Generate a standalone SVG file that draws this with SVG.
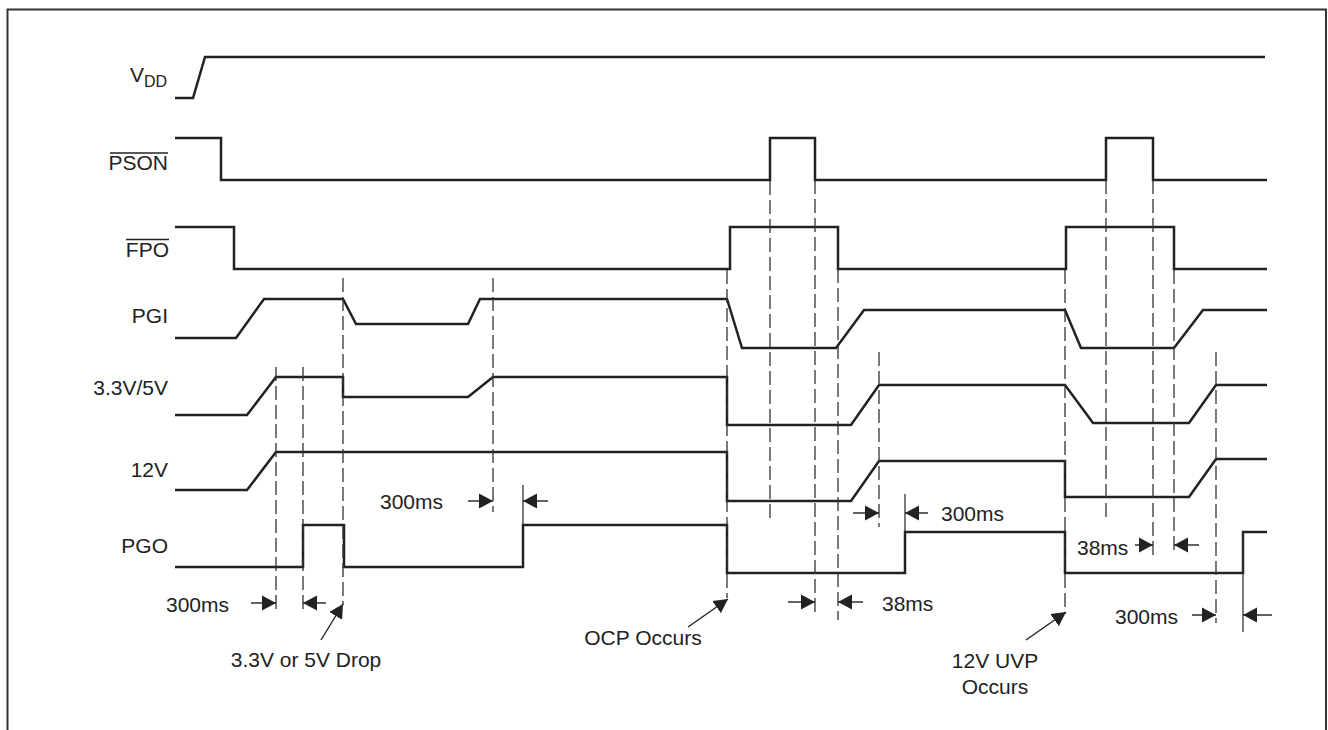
<svg xmlns="http://www.w3.org/2000/svg" width="1328" height="730" viewBox="0 0 1328 730">
<style>
  .wave { fill: none; stroke: #222; stroke-width: 2.5; stroke-linejoin: miter; }
  .dash { fill: none; stroke: #333; stroke-width: 1.3; stroke-dasharray: 14 5; }
  .tick { fill: none; stroke: #333; stroke-width: 1.3; }
  .arr { fill: none; stroke: #222; stroke-width: 1.4; marker-end: url(#ah); }
  .over { stroke: #222; stroke-width: 1.3; }
  text { font-family: "Liberation Sans", Arial, sans-serif; font-size: 21px; fill: #222; }
  .lbl { text-anchor: end; }
  .mid { text-anchor: middle; }
</style>
<defs>
  <marker id="ah" markerUnits="userSpaceOnUse" markerWidth="15" markerHeight="16" refX="14" refY="8" orient="auto">
    <path d="M0,0.5 L14,8 L0,15.5 Z" fill="#222"/>
  </marker>
</defs>
<rect width="1328" height="730" fill="#fff"/>
<path d="M7.5,740 V9.5 H1326 V740" fill="none" stroke="#333" stroke-width="2"/>

<g id="sig-vdd">
  <text x="130" y="82">V<tspan font-size="16" dy="5">DD</tspan></text>
  <path class="wave" d="M175,98 H193 L205,57 H1265"/>
</g>
<g id="sig-pson">
  <text class="lbl" x="168" y="170">PSON</text>
  <line class="over" x1="110" y1="153" x2="168" y2="153"/>
  <path class="wave" d="M175,138 H221 V180 H770 V138 H815 V180 H1106 V138 H1153 V180 H1267"/>
</g>
<g id="sig-fpo">
  <text class="lbl" x="169" y="257">FPO</text>
  <line class="over" x1="126" y1="239.5" x2="169" y2="239.5"/>
  <path class="wave" d="M175,227 H234 V269 H730 V227 H838 V269 H1066 V227 H1174 V269 H1267"/>
</g>
<g id="sig-pgi">
  <text class="lbl" x="168" y="323">PGI</text>
  <path class="wave" d="M175,338 H236 L264,299 H343 L356,324 H468 L480,299 H727 L742,348 H836 L864,310 H1065 L1081,348 H1174 L1203,310 H1267"/>
</g>
<g id="sig-33v5v">
  <text class="lbl" x="168" y="395">3.3V/5V</text>
  <path class="wave" d="M175,415 H247 L276,377 H343 V397 H468 L493,377 H727 V425 H851 L879,385 H1065 L1093,423 H1189 L1216,385 H1267"/>
</g>
<g id="sig-12v">
  <text class="lbl" x="168" y="477">12V</text>
  <path class="wave" d="M175,490 H247 L276,452 H727 V501 H851 L879,461 H1065 V497 H1189 L1216,459 H1267"/>
</g>
<g id="sig-pgo">
  <text class="lbl" x="168" y="553">PGO</text>
  <path class="wave" d="M175,567 H303 V525 H344 V567 H523 V525 H727 V573 H905 V532 H1065 V573 H1243 V532 H1267"/>
</g>

<g id="connectors">
  <line class="dash" x1="276" y1="367" x2="276" y2="611"/>
  <line class="dash" x1="303" y1="367" x2="303" y2="611"/>
  <line class="dash" x1="343" y1="278" x2="343" y2="605"/>
  <line class="dash" x1="493" y1="278" x2="493" y2="512"/>
  <line class="dash" x1="727" y1="270" x2="727" y2="598"/>
  <line class="dash" x1="770" y1="181" x2="770" y2="522"/>
  <line class="dash" x1="815" y1="180" x2="815" y2="613"/>
  <line class="dash" x1="838" y1="269" x2="838" y2="620"/>
  <line class="dash" x1="879" y1="352" x2="879" y2="527"/>
  <line class="dash" x1="1065" y1="270" x2="1065" y2="614"/>
  <line class="dash" x1="1106" y1="180" x2="1106" y2="519"/>
  <line class="dash" x1="1153" y1="180" x2="1153" y2="557"/>
  <line class="dash" x1="1174" y1="270" x2="1174" y2="552"/>
  <line class="dash" x1="1216" y1="352" x2="1216" y2="623"/>
  <line class="tick" x1="523" y1="485" x2="523" y2="525"/>
  <line class="tick" x1="905" y1="494" x2="905" y2="532"/>
  <line class="tick" x1="1243" y1="532" x2="1243" y2="632"/>

  <line class="arr" x1="251" y1="603" x2="276" y2="603"/>
  <line class="arr" x1="326" y1="603" x2="303" y2="603"/>
  <line class="arr" x1="468" y1="501" x2="493" y2="501"/>
  <line class="arr" x1="548" y1="501" x2="523" y2="501"/>
  <line class="arr" x1="788" y1="602" x2="815" y2="602"/>
  <line class="arr" x1="863" y1="602" x2="838" y2="602"/>
  <line class="arr" x1="853" y1="513" x2="879" y2="513"/>
  <line class="arr" x1="928" y1="513" x2="905" y2="513"/>
  <line class="arr" x1="1135" y1="545" x2="1153" y2="545"/>
  <line class="arr" x1="1199" y1="545" x2="1174" y2="545"/>
  <line class="arr" x1="1192" y1="615" x2="1216" y2="615"/>
  <line class="arr" x1="1272" y1="615" x2="1243" y2="615"/>

  <line class="arr" x1="321" y1="640" x2="343" y2="604"/>
  <line class="arr" x1="688" y1="627" x2="728" y2="599"/>
  <line class="arr" x1="1026" y1="640" x2="1066" y2="612"/>
</g>

<g id="annotations">
  <text x="166" y="612">300ms</text>
  <text x="380" y="509">300ms</text>
  <text class="mid" x="306" y="667">3.3V or 5V Drop</text>
  <text class="mid" x="643" y="645">OCP Occurs</text>
  <text x="882" y="611">38ms</text>
  <text x="941" y="521">300ms</text>
  <text class="mid" x="995" y="668">12V UVP</text>
  <text class="mid" x="995" y="694">Occurs</text>
  <text x="1077" y="555">38ms</text>
  <text x="1115" y="624">300ms</text>
</g>
</svg>
